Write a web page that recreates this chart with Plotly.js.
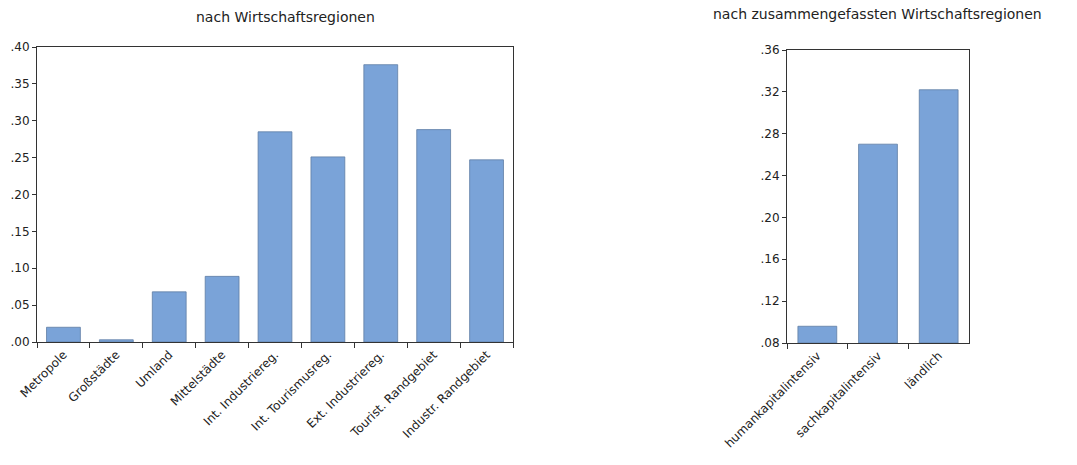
<!DOCTYPE html>
<html><head><meta charset="utf-8">
<script src="https://cdn.plot.ly/plotly-3.0.1.min.js"></script>
<style>html,body{margin:0;padding:0;background:#fff}</style>
</head><body>
<div id="chart" style="width:1077px;height:465px"></div>
<script>
const regions = ["Metropole","Großstädte","Umland","Mittelstädte","Int. Industriereg.","Int. Tourismusreg.","Ext. Industriereg.","Tourist. Randgebiet","Industr. Randgebiet"];
const regionValues = [0.020, 0.003, 0.068, 0.089, 0.285, 0.251, 0.376, 0.288, 0.247];
const groups = ["humankapitalintensiv","sachkapitalintensiv","ländlich"];
const groupValues = [0.096, 0.270, 0.322];
const leftTicks = [0, 0.05, 0.10, 0.15, 0.20, 0.25, 0.30, 0.35, 0.40];
const leftTickText = [".00",".05",".10",".15",".20",".25",".30",".35",".40"];
const rightTicks = [0.08, 0.12, 0.16, 0.20, 0.24, 0.28, 0.32, 0.36];
const rightTickText = [".08",".12",".16",".20",".24",".28",".32",".36"];
const rightBase = 0.08;
const titleLeft = "nach Wirtschaftsregionen";
const titleRight = "nach zusammengefassten Wirtschaftsregionen";

const FONT = "'DejaVu Sans', sans-serif";
const barColor = "rgb(122,163,216)";
const barLine = "rgb(95,125,165)";

const traces = [
  {type:"bar", x:regions, y:regionValues, xaxis:"x", yaxis:"y",
   marker:{color:barColor, line:{color:barLine, width:0.8}}, hoverinfo:"x+y"},
  {type:"bar", x:groups, y:groupValues.map(v => v - rightBase), xaxis:"x2", yaxis:"y2",
   marker:{color:barColor, line:{color:barLine, width:0.8}}, hoverinfo:"x+y"}
];

const axisCommon = {showline:true, linecolor:"#333", linewidth:1, mirror:true,
  ticks:"outside", ticklen:4, tickcolor:"#333", showgrid:false, zeroline:false,
  tickfont:{family:FONT, size:12, color:"#222"}};

const layout = {
  width:1077, height:465, margin:{l:0,r:0,t:0,b:0},
  paper_bgcolor:"#fff", plot_bgcolor:"#fff", showlegend:false, bargap:0.36,
  xaxis:Object.assign({}, axisCommon, {domain:[37/1077, 513/1077], anchor:"y",
    type:"category", tickson:"boundaries", tickangle:-45, ticklen:5}),
  yaxis:Object.assign({}, axisCommon, {domain:[(465-342)/465, (465-47)/465], anchor:"x",
    range:[0,0.40], tickvals:leftTicks, ticktext:leftTickText}),
  xaxis2:Object.assign({}, axisCommon, {domain:[787/1077, 969/1077], anchor:"y2",
    type:"category", tickson:"boundaries", tickangle:-45, ticklen:5}),
  yaxis2:Object.assign({}, axisCommon, {domain:[(465-343)/465, (465-50)/465], anchor:"x2",
    range:[0,0.28], tickvals:rightTicks.map(v=>v-rightBase), ticktext:rightTickText}),
  annotations:[
    {text:titleLeft, xref:"paper", yref:"paper", x:285/1077, y:1-17/465, showarrow:false,
     xanchor:"center", yanchor:"middle", font:{family:FONT, size:14, color:"#222"}},
    {text:titleRight, xref:"paper", yref:"paper", x:877/1077, y:1-14/465, showarrow:false,
     xanchor:"center", yanchor:"middle", font:{family:FONT, size:14, color:"#222"}}
  ]
};
Plotly.newPlot("chart", traces, layout, {displayModeBar:false, staticPlot:true});
</script>
</body></html>
